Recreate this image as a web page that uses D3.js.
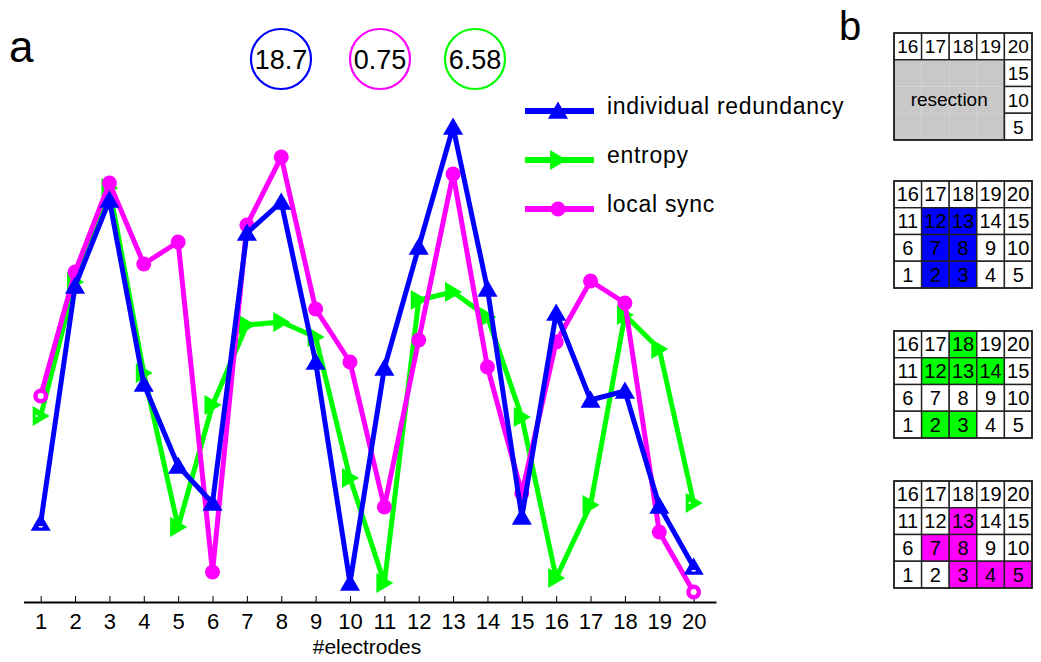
<!DOCTYPE html>
<html>
<head>
<meta charset="utf-8">
<script src="https://cdn.jsdelivr.net/npm/d3@7"></script>
<style>
  html, body { margin: 0; padding: 0; background: #fff; }
  svg { display: block; font-family: "Liberation Sans", Arial, sans-serif; }
</style>
</head>
<body>
<svg id="chart" width="1041" height="662"></svg>
<script>
// electrode index along the x axis
const electrodes = d3.range(1, 21);

// relative scores (0..100)
const redundancy = [15.8, 63.2, 80.4, 43.6, 27.2, 19.8, 73.8, 80, 48, 3.8, 46.8, 71, 95, 62.6, 17, 57.8, 40.4, 42.2, 19.2, 7];
const entropy = [37.2, 64, 82.8, 45.8, 15, 39.4, 55.4, 56, 53, 24.8, 3.8, 60.4, 62, 57, 37, 4.8, 19.4, 57.4, 50.6, 19.8];
const localSync = [41.2, 66, 83.8, 67.6, 72, 6, 75.4, 89, 58.6, 48, 19, 52.4, 85.6, 47, 21.8, 52, 64.2, 59.8, 14, 2];

const seriesNames = ['individual redundancy', 'entropy', 'local sync'];
const scoreLabels = ['18.7', '0.75', '6.58'];

// panel b: electrode grids
const gridRows = [[16, 17, 18, 19, 20], [11, 12, 13, 14, 15], [6, 7, 8, 9, 10], [1, 2, 3, 4, 5]];
const resected = [1, 2, 3, 4, 6, 7, 8, 9, 11, 12, 13, 14];
const redundancyPicks = [12, 13, 7, 8, 2, 3];
const entropyPicks = [18, 12, 13, 14, 2, 3];
const syncPicks = [13, 7, 8, 3, 4, 5];

const BLUE = '#0000ff', GREEN = '#00ff00', MAGENTA = '#ff00ff';
const NARROW = '"Liberation Sans Narrow", "Liberation Sans", Arial, sans-serif';

const svg = d3.select('#chart');

const x = d3.scaleLinear().domain([0.5, 20.65]).range([23.5, 716]);
const y = d3.scaleLinear().domain([0, 100]).range([602, 102]);

// x axis, ticks pointing up
const axis = svg.append('g')
    .attr('transform', `translate(0,${y(0)})`)
    .call(d3.axisBottom(x).tickValues(electrodes).tickSizeInner(-6).tickSizeOuter(0).tickPadding(11));
axis.select('.domain').attr('stroke', '#000').attr('stroke-width', 2);
axis.selectAll('.tick line').attr('stroke', '#000').attr('stroke-width', 1);
axis.selectAll('.tick text')
    .attr('font-size', 22).attr('fill', '#000')
    .attr('font-family', NARROW);

svg.append('text')
    .attr('x', 367).attr('y', 654)
    .attr('text-anchor', 'middle').attr('font-size', 21)
    .attr('font-family', NARROW)
    .text('#electrodes');

// marker shapes
const triUp = d3.symbol().type(d3.symbolTriangle).size(175);
const triRight = 'M9,0 L-8,-10 L-8,10 Z';

const series = [
    { name: seriesNames[1], values: entropy, color: GREEN, marker: 'right' },
    { name: seriesNames[2], values: localSync, color: MAGENTA, marker: 'circle' },
    { name: seriesNames[0], values: redundancy, color: BLUE, marker: 'up' },
];

const line = d3.line().x((d, i) => x(electrodes[i])).y(d => y(d));

function drawMarker(g, kind, color, hollow) {
    if (kind === 'circle') {
        g.append('circle').attr('r', 7.5).attr('fill', color);
        if (hollow) g.append('circle').attr('r', 3).attr('fill', '#fff');
    } else if (kind === 'up') {
        g.append('path').attr('d', triUp()).attr('fill', color).attr('transform', 'translate(0,2)');
        if (hollow) g.append('rect').attr('x', -2).attr('y', 3).attr('width', 4).attr('height', 1.5).attr('fill', '#fff');
    } else {
        g.append('path').attr('d', triRight).attr('fill', color);
        if (hollow) g.append('rect').attr('x', -5).attr('y', -1).attr('width', 2).attr('height', 2).attr('fill', '#fff');
    }
}

series.forEach(s => {
    svg.append('path')
        .datum(s.values)
        .attr('fill', 'none')
        .attr('stroke', s.color)
        .attr('stroke-width', 5)
        .attr('stroke-linejoin', 'round')
        .attr('d', line);
    s.values.forEach((v, i) => {
        const g = svg.append('g').attr('transform', `translate(${x(electrodes[i])},${y(v)})`);
        drawMarker(g, s.marker, s.color, i === 0 || i === s.values.length - 1);
    });
});

// legend
const legendItems = [
    { name: seriesNames[0], color: BLUE, marker: 'up', y: 111 },
    { name: seriesNames[1], color: GREEN, marker: 'right', y: 160 },
    { name: seriesNames[2], color: MAGENTA, marker: 'circle', y: 209 },
];
legendItems.forEach(d => {
    const g = svg.append('g').attr('transform', `translate(0,${d.y})`);
    g.append('line').attr('x1', 525).attr('x2', 594).attr('stroke', d.color).attr('stroke-width', 6);
    const m = g.append('g').attr('transform', 'translate(558,0)');
    drawMarker(m, d.marker, d.color, false);
    g.append('text').attr('x', 607).attr('y', 3).attr('font-size', 23)
        .attr('letter-spacing', 0.7).text(d.name);
});

// score circles
const scoreColors = [BLUE, MAGENTA, GREEN];
const scoreX = [281, 380, 475];
scoreLabels.forEach((t, i) => {
    svg.append('circle').attr('cx', scoreX[i]).attr('cy', 59).attr('r', 30)
        .attr('fill', 'none').attr('stroke', scoreColors[i]).attr('stroke-width', 2.2);
    svg.append('text').attr('x', scoreX[i]).attr('y', 69).attr('text-anchor', 'middle')
        .attr('font-size', 27).text(t);
});

// panel letters
svg.append('text').attr('x', 9).attr('y', 62).attr('font-size', 44).text('a');
svg.append('text').attr('x', 839).attr('y', 40).attr('font-size', 40).text('b');

// panel b grids
const gx = d3.scaleBand().domain(d3.range(5)).range([894, 1032]);
const gy = d3.scaleBand().domain(d3.range(4)).range([0, 107]);
const gridTops = [33, 181, 331, 481];

function drawGrid(top, picks, color, isResection) {
    const g = svg.append('g').attr('transform', `translate(0,${top})`);
    gridRows.forEach((row, r) => {
        row.forEach((n, c) => {
            const hidden = isResection && resected.includes(n);
            let fill = '#fff';
            if (hidden) fill = '#c8c8c8';
            else if (picks.includes(n)) fill = color;
            g.append('rect')
                .attr('x', gx(c)).attr('y', gy(r))
                .attr('width', gx.bandwidth()).attr('height', gy.bandwidth())
                .attr('fill', fill)
                .attr('stroke', hidden ? 'none' : '#222').attr('stroke-width', 1.4);
            if (!hidden) {
                g.append('text')
                    .attr('x', gx(c) + gx.bandwidth() / 2).attr('y', gy(r) + gy.bandwidth() / 2 + 7)
                    .attr('text-anchor', 'middle').attr('font-size', isResection ? 19 : 20)
                    .text(n);
            }
        });
    });
    if (isResection) {
        g.append('rect').attr('x', gx(0)).attr('y', gy(1))
            .attr('width', gx(4) - gx(0)).attr('height', gy.bandwidth() * 3)
            .attr('fill', 'none').attr('stroke', '#222').attr('stroke-width', 1.4);
        g.append('text').attr('x', (gx(0) + gx(4)) / 2).attr('y', gy(2) + gy.bandwidth() / 2 + 6)
            .attr('text-anchor', 'middle').attr('font-size', 19).text('resection');
    }
    g.append('rect').attr('x', gx(0)).attr('y', 0).attr('width', 138).attr('height', 107)
        .attr('fill', 'none').attr('stroke', '#222').attr('stroke-width', 1.6);
}

drawGrid(gridTops[0], [], '#fff', true);
drawGrid(gridTops[1], redundancyPicks, BLUE, false);
drawGrid(gridTops[2], entropyPicks, GREEN, false);
drawGrid(gridTops[3], syncPicks, MAGENTA, false);
</script>
</body>
</html>
